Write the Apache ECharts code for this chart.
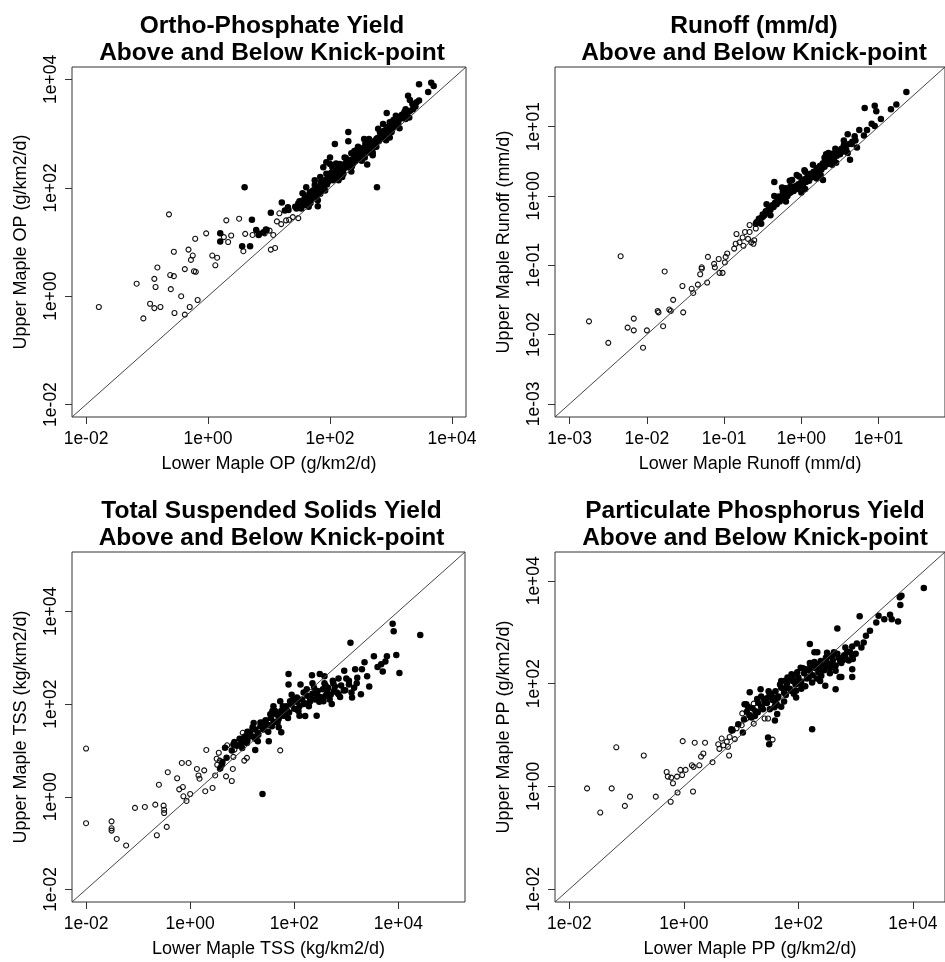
<!DOCTYPE html>
<html>
<head>
<meta charset="utf-8">
<script src="https://cdn.jsdelivr.net/npm/echarts@6/dist/echarts.min.js"></script>
<style>
html, body { margin: 0; padding: 0; background: #fff; }
#chart { width: 945px; height: 962px; }
</style>
</head>
<body>
<div id="chart"></div>
<script>
// all values are log10 of the yields
// [lower maple, upper maple]

// Ortho-Phosphate (g/km2/d)
var opOpen = [[-1.79,-0.20],[-1.17,0.23],[-1.06,-0.41],[-0.95,-0.14],[-0.88,-0.22],[-0.78,-0.20],[-0.88,0.32],[-0.86,0.17],[-0.83,0.53],[-0.64,1.51],[-0.62,0.39],[-0.56,0.37],[-0.61,0.13],[-0.55,-0.31],[-0.56,0.82],[-0.44,0.00],[-0.38,0.50],[-0.38,-0.34],[-0.32,0.86],[-0.28,0.67],[-0.25,0.75],[-0.30,-0.20],[-0.23,0.46],[-0.20,0.45],[-0.21,1.06],[-0.17,-0.07],[-0.03,1.16],[0.07,0.75],[0.15,0.71],[0.12,0.57],[0.30,1.40],[0.51,1.43],[0.26,1.09],[0.33,1.00],[0.38,1.12],[0.61,1.15],[0.58,0.83],[0.73,1.13],[0.93,1.16],[1.03,0.86],[1.10,0.89],[1.07,1.13],[1.13,1.38],[1.17,1.53],[1.28,1.40],[1.39,1.46],[1.48,1.44],[1.33,1.41],[1.20,1.33],[1.01,1.21]];
var opFilled = [[0.60,2.01],[0.20,1.16],[0.20,1.01],[0.72,1.41],[0.56,0.92],[0.69,0.92],[0.79,1.22],[0.83,1.13],[0.96,1.22],[1.03,1.54],[1.21,1.73],[1.26,1.58],[1.31,1.64],[2.77,2.01],
  [3.46,3.91],[3.66,3.94],[3.70,3.88],[3.61,3.77],[3.28,3.70],[3.31,3.62],[3.46,3.61],[3.37,3.52],[3.31,3.42],[3.24,3.27],[2.93,3.38],[3.08,3.33],[3.15,3.31],[2.98,3.21],[3.04,3.15],[2.87,3.18],[2.79,3.09],[2.93,3.12],[3.01,3.03],[2.85,3.00],[2.98,2.93],[2.76,2.90],[2.65,2.84],[2.71,2.75],[2.60,2.78],[2.63,2.65],[2.57,2.56],[2.61,2.43],[2.30,3.03],[2.30,2.86],[2.08,2.81],[2.46,2.76],[2.35,2.64],[2.00,2.56],[2.24,2.56],[2.44,2.56],[2.00,2.44],[2.16,2.44],[2.33,2.47],[2.11,2.35],[2.24,2.38],[1.94,2.26],[2.03,2.20],[2.11,2.20],[1.97,2.11],[2.05,2.14],[1.89,2.08],[1.75,2.14],[1.78,2.01],[1.67,1.92],[1.84,1.89],[1.61,2.01],[1.75,1.86],[1.80,1.77],[1.59,1.86],[1.56,1.77],[1.48,1.71],[1.80,1.66],[1.62,1.68],[1.53,1.62],[1.43,1.65],[1.32,1.59],[0.84,1.15],[0.91,1.18],[0.95,1.23],[1.94,2.47],[1.89,2.38],[2.05,2.29],[2.22,2.26],[1.84,2.20],
  [1.45,1.62],[1.50,1.75],[1.55,1.68],[1.60,1.80],[1.63,1.74],[1.66,1.85],[1.70,1.80],[1.72,1.95],[1.76,1.92],[1.78,1.84],[1.82,2.00],[1.85,1.96],[1.88,2.12],[1.90,2.02],[1.93,2.15],[1.95,2.06],[1.98,2.22],[2.00,2.15],[2.02,2.28],[2.06,2.24],[2.08,2.32],[2.10,2.18],[2.13,2.30],[2.15,2.36],[2.18,2.27],[2.20,2.40],[2.22,2.34],[2.25,2.45],[2.27,2.38],[2.30,2.50],[2.32,2.42],[2.35,2.52],[2.38,2.46],[2.40,2.60],[2.42,2.50],[2.45,2.62],[2.48,2.56],[2.50,2.70],[2.53,2.62],[2.55,2.74],[2.58,2.68],[2.62,2.72],[2.66,2.80],[2.68,2.72],[2.72,2.86],[2.74,2.80],[2.78,2.92],[2.80,2.86],[2.83,2.96],[2.86,2.92],[2.88,3.05],[2.90,2.98],[2.94,3.08],[2.96,3.02],[3.00,3.12],[3.02,3.08],[3.05,3.20],[3.08,3.14],[3.10,3.26],[3.12,3.20],[3.16,3.28],[3.18,3.35],[3.20,3.30],[3.22,3.40],[3.26,3.36],[2.56,2.90],[2.10,2.45],[1.75,2.05],[2.35,2.30],[2.70,2.65],[3.40,3.50],[3.35,3.55],
  [1.55,1.90],[1.65,1.65],[1.85,2.10],[1.92,1.95],[2.04,2.38],[2.14,2.14],[2.26,2.55],[2.36,2.40],[2.44,2.70],[2.52,2.50],[2.64,2.90],[2.70,2.60],[2.82,3.02],[2.92,2.88],[3.04,3.25],[3.14,3.10],[3.24,3.45],[3.30,3.30],[3.36,3.45],[3.42,3.58],[2.40,2.68],[2.20,2.20],[1.68,1.72],[2.58,2.82],[2.76,2.76]];

// Runoff (mm/d)
var runoffOpen = [[-2.75,-1.81],[-2.50,-2.12],[-2.34,-0.87],[-2.25,-1.90],[-2.17,-1.77],[-2.17,-1.94],[-2.05,-2.19],[-2.00,-1.94],[-1.85,-1.68],[-1.86,-1.66],[-1.79,-1.88],[-1.77,-1.09],[-1.71,-1.64],[-1.69,-1.66],[-1.66,-1.50],[-1.54,-1.30],[-1.53,-1.68],[-1.42,-1.34],[-1.40,-1.40],[-1.34,-1.28],[-1.31,-1.13],[-1.29,-1.05],[-1.29,-1.03],[-1.22,-1.25],[-1.21,-0.88],[-1.13,-0.98],[-1.12,-1.03],[-1.07,-0.91],[-1.06,-1.11],[-1.02,-1.11],[-0.99,-0.96],[-0.98,-0.88],[-0.96,-0.83],[-0.87,-0.76],[-0.85,-0.69],[-0.84,-0.55],[-0.80,-0.67],[-0.76,-0.60],[-0.73,-0.52],[-0.69,-0.62],[-0.67,-0.52],[-0.65,-0.67],[-0.75,-0.72],[-0.61,-0.64],[-0.59,-0.47],[-0.67,-0.42],[-0.62,-0.69]];
var runoffFilled = [[1.36,1.50],[0.82,1.27],[0.95,1.30],[0.97,1.22],[1.16,1.25],[1.23,1.32],[1.03,1.11],[0.91,1.04],[0.95,1.01],[0.60,0.89],[0.69,0.86],[0.81,0.87],[0.65,0.75],[0.63,0.52],[0.55,0.73],[0.44,0.68],[0.40,0.61],[0.35,0.56],[0.27,0.45],[0.23,0.40],[0.28,0.23],[0.18,0.35],[0.12,0.30],[0.04,0.37],[0.10,0.25],[-0.03,0.28],[-0.12,0.23],[-0.14,0.14],[-0.20,0.11],[-0.24,0.06],[-0.16,0.04],[-0.35,0.20],[-0.29,-0.01],[-0.33,-0.09],[-0.37,-0.13],[-0.42,-0.18],[-0.46,-0.23],[-0.50,-0.30],[-0.55,-0.35],[-0.59,-0.40],
  [-0.58,-0.38],[-0.55,-0.33],[-0.52,-0.32],[-0.50,-0.27],[-0.48,-0.28],[-0.46,-0.22],[-0.44,-0.24],[-0.42,-0.19],[-0.40,-0.20],[-0.38,-0.15],[-0.36,-0.16],[-0.34,-0.10],[-0.32,-0.12],[-0.30,-0.06],[-0.28,-0.08],[-0.26,-0.02],[-0.24,-0.04],[-0.22,0.02],[-0.20,0.05],[-0.18,0.00],[-0.16,0.08],[-0.14,0.05],[-0.12,0.10],[-0.10,0.07],[-0.08,0.14],[-0.06,0.10],[-0.04,0.17],[-0.02,0.12],[0.00,0.20],[0.02,0.16],[0.04,0.24],[0.06,0.20],[0.08,0.28],[0.10,0.22],[0.12,0.32],[0.14,0.27],[0.16,0.35],[0.18,0.30],[0.20,0.40],[0.22,0.36],[0.24,0.43],[0.26,0.38],[0.28,0.47],[0.30,0.42],[0.32,0.50],[0.34,0.46],[0.36,0.54],[0.38,0.50],[0.40,0.57],[0.42,0.53],[0.44,0.62],[0.46,0.58],[0.48,0.65],[0.50,0.60],[0.52,0.68],[0.54,0.64],[0.56,0.72],[0.58,0.67],[0.62,0.75],[0.66,0.78],[0.70,0.80],[-0.06,0.30],[0.05,0.35],[-0.25,0.12],[0.32,0.60],
  [-0.45,-0.12],[-0.35,0.00],[-0.15,0.22],[0.05,0.10],[0.15,0.45],[0.25,0.30],[0.35,0.62],[0.45,0.48],[0.55,0.80],[0.60,0.62],[-0.52,-0.40],[-0.40,-0.28],[-0.20,-0.08],[0.00,0.05],[0.20,0.25],[0.40,0.45],[0.75,0.95],[0.85,0.95],[0.72,0.70],[0.30,0.55]];

// Total Suspended Solids (kg/km2/d)
var tssOpen = [[-2.00,1.04],[-2.00,-0.57],[-1.51,-0.53],[-1.51,-0.68],[-1.51,-0.73],[-1.41,-0.91],[-1.23,-1.05],[-1.06,-0.24],[-0.87,-0.22],[-0.67,-0.17],[-0.64,-0.83],[-0.60,0.26],[-0.51,-0.19],[-0.50,-0.28],[-0.50,-0.35],[-0.45,-0.65],[-0.43,0.53],[-0.25,0.40],[-0.21,0.16],[-0.16,0.73],[-0.03,0.73],[-0.14,0.21],[-0.13,0.01],[-0.07,-0.09],[0.00,0.06],[0.13,0.60],[0.16,0.46],[0.18,0.39],[0.27,0.57],[0.31,1.01],[0.29,0.12],[0.43,0.19],[0.48,0.46],[0.52,0.69],[0.57,0.78],[0.55,0.95],[0.69,0.44],[0.80,0.34],[0.82,0.60],[0.83,0.86],[0.85,1.02],[0.71,1.11],[1.01,1.38],[1.04,0.78],[1.09,0.84],[1.28,1.23],[1.73,1.00],[0.57,0.60],[0.51,0.82]];
var tssFilled = [[3.89,3.73],[3.91,3.57],[4.42,3.49],[3.08,3.32],[3.96,3.06],[3.78,3.03],[3.67,2.86],[3.75,2.92],[4.02,2.67],[3.53,3.03],[3.35,2.90],[3.30,2.75],[3.17,2.75],[3.21,2.57],[2.96,2.72],[3.05,2.50],[3.44,2.38],[3.28,2.21],[3.11,2.14],[2.95,2.29],[2.85,2.21],[2.74,2.50],[2.58,2.60],[2.49,2.65],[2.34,2.62],[1.89,2.65],[2.76,2.28],[2.63,2.28],[2.72,2.00],[2.56,2.06],[2.43,2.21],[2.24,2.32],[2.30,2.14],[2.18,2.00],[2.43,1.75],[2.21,1.74],[2.05,1.88],[1.92,2.06],[1.73,2.06],[1.86,1.85],[1.73,1.74],[1.63,1.85],[1.54,1.78],[1.47,1.56],[1.57,1.52],[1.75,1.39],[1.51,1.20],[1.35,1.52],[1.22,1.59],[1.15,1.34],[1.25,1.01],[1.09,1.16],[0.96,1.13],[0.83,1.13],[0.67,1.06],[0.70,0.84],[0.61,0.69],[1.39,0.06],[1.89,2.42],[2.05,2.14],[2.12,2.42],[1.41,1.45],[1.31,1.34],[0.85,1.18],[0.62,0.75],[0.58,0.62],
  [0.90,1.10],[0.95,1.25],[1.00,1.18],[1.05,1.30],[1.10,1.22],[1.15,1.40],[1.20,1.30],[1.25,1.45],[1.30,1.38],[1.35,1.60],[1.40,1.48],[1.45,1.65],[1.50,1.55],[1.55,1.70],[1.60,1.62],[1.65,1.78],[1.70,1.68],[1.75,1.85],[1.80,1.75],[1.85,1.95],[1.90,1.82],[1.95,2.00],[2.00,1.90],[2.05,2.05],[2.10,1.95],[2.15,2.10],[2.20,2.02],[2.25,2.18],[2.30,2.05],[2.35,2.22],[2.40,2.10],[2.45,2.28],[2.50,2.15],[2.55,2.32],[2.60,2.18],[2.65,2.35],[2.70,2.20],[2.78,2.38],[2.82,2.25],[2.90,2.40],[2.98,2.30],[3.05,2.42],[3.15,2.35],[1.60,1.95],[1.95,2.20],[2.35,2.45],[1.30,1.20],[1.70,1.50],[2.10,1.75],[2.60,2.40],[1.10,1.40],[2.85,2.55],[1.50,1.40],
  [1.20,1.50],[1.40,1.60],[1.58,1.85],[1.68,1.60],[1.78,1.95],[1.88,1.70],[1.98,2.10],[2.08,1.85],[2.18,2.25],[2.28,1.95],[2.38,2.35],[2.48,2.05],[2.58,2.45],[2.68,2.10],[2.75,2.45],[2.88,2.15],[3.00,2.55],[3.10,2.25],[3.20,2.45],[3.40,2.60],[3.60,2.80],[3.70,2.70],[0.80,1.00],[1.00,1.05],[1.25,1.25]];

// Particulate Phosphorus (g/km2/d)
var ppOpen = [[-1.69,-0.04],[-1.46,-0.51],[-1.26,-0.04],[-1.18,0.76],[-1.03,-0.38],[-0.94,-0.20],[-0.70,0.60],[-0.49,-0.20],[-0.30,0.28],[-0.28,0.19],[-0.22,0.17],[-0.19,0.06],[-0.12,0.19],[-0.23,-0.30],[-0.11,-0.12],[-0.06,0.32],[-0.03,0.22],[0.03,0.32],[-0.02,0.88],[0.14,0.41],[0.16,-0.10],[0.17,0.38],[0.19,0.85],[0.27,0.41],[0.30,0.58],[0.34,0.64],[0.37,0.85],[0.50,0.47],[0.60,0.82],[0.62,0.73],[0.66,0.93],[0.69,0.80],[0.75,0.87],[0.77,0.77],[0.79,0.60],[0.80,0.96],[0.83,1.08],[0.89,0.92],[0.92,1.13],[1.01,1.19],[1.02,1.42],[1.09,1.32],[1.15,1.39],[1.22,1.61],[1.22,1.22],[1.26,1.45],[1.41,1.32],[1.47,1.32],[1.55,0.91],[1.64,1.58]];
var ppFilled = [[4.19,3.86],[3.80,3.71],[3.77,3.68],[3.78,3.53],[3.07,3.31],[3.40,3.32],[3.60,3.34],[3.63,3.25],[3.74,3.21],[3.50,3.25],[3.36,3.19],[3.25,3.03],[3.18,2.93],[3.14,2.80],[3.02,2.78],[2.94,2.72],[2.82,2.70],[2.85,2.61],[2.94,2.54],[2.95,2.48],[2.82,2.51],[2.68,3.07],[2.20,2.77],[2.28,2.61],[2.33,2.61],[2.62,2.61],[2.59,2.54],[2.50,2.51],[2.39,2.44],[2.45,2.31],[2.30,2.38],[2.21,2.35],[2.13,2.28],[2.04,2.31],[1.98,2.22],[1.90,2.15],[1.81,2.12],[1.70,2.05],[1.75,2.05],[2.73,2.44],[2.65,2.25],[2.75,2.13],[2.94,2.28],[2.94,2.13],[2.65,1.89],[2.47,1.96],[2.38,2.05],[2.24,2.02],[2.16,2.12],[2.04,1.99],[1.96,1.86],[1.96,1.73],[1.87,1.86],[1.79,1.92],[1.64,1.73],[1.61,1.63],[1.58,1.54],[1.53,1.80],[1.47,1.73],[1.41,1.63],[1.36,1.54],[1.34,1.89],[1.15,1.83],[1.09,1.60],[1.29,1.44],[1.24,1.37],[1.18,1.34],[1.63,1.41],[1.59,1.28],[1.47,0.95],[1.49,0.82],[2.24,1.11],[1.03,1.05],[0.83,1.11],[0.95,1.21],[0.85,1.09],[1.06,1.60],[2.72,2.13],
  [1.05,1.30],[1.10,1.45],[1.15,1.38],[1.20,1.52],[1.25,1.46],[1.30,1.62],[1.35,1.55],[1.40,1.70],[1.45,1.62],[1.50,1.78],[1.55,1.68],[1.60,1.85],[1.65,1.75],[1.70,1.92],[1.75,1.82],[1.80,2.00],[1.85,1.90],[1.90,2.05],[1.95,1.98],[2.00,2.12],[2.05,2.04],[2.10,2.20],[2.15,2.10],[2.20,2.25],[2.25,2.16],[2.30,2.30],[2.35,2.22],[2.40,2.36],[2.45,2.26],[2.50,2.40],[2.55,2.30],[2.60,2.45],[2.65,2.35],[2.70,2.50],[2.75,2.40],[2.80,2.55],[2.88,2.45],[1.50,1.50],[1.85,2.10],[2.20,2.40],[2.50,2.60],[1.60,1.60],[2.05,1.90],[2.40,2.15],[1.35,1.75],[1.75,1.65],
  [1.12,1.55],[1.28,1.70],[1.38,1.50],[1.48,1.85],[1.58,1.72],[1.68,1.98],[1.78,1.78],[1.88,2.18],[1.98,2.05],[2.08,2.30],[2.18,2.12],[2.28,2.42],[2.38,2.28],[2.48,2.50],[2.58,2.36],[2.68,2.58],[2.78,2.46],[2.90,2.62],[3.00,2.58],[3.10,2.70],[2.32,2.10],[2.12,1.95],[1.92,1.80],[1.70,1.55],[2.55,2.20]];

// axis limits (log10) and tick positions (log10 of 1e-03 ... 1e+04)
var opRange = [-2.23, 4.23];
var runoffRange = [-3.19, 1.86];
var tssRange = [-2.27, 5.28];
var ppRange = [-2.25, 4.56];
var opTicks = [-2, 0, 2, 4];
var runoffTicks = [-3, -2, -1, 0, 1];
var tssTicks = [-2, 0, 2, 4];
var ppTicks = [-2, 0, 2, 4];

var panels = [
  { title: 'Ortho-Phosphate Yield\nAbove and Below Knick-point', xName: 'Lower Maple OP (g/km2/d)', yName: 'Upper Maple OP (g/km2/d)',
    range: opRange, ticks: opTicks, open: opOpen, filled: opFilled, left: 72, top: 67, width: 394 },
  { title: 'Runoff (mm/d)\nAbove and Below Knick-point', xName: 'Lower Maple Runoff (mm/d)', yName: 'Upper Maple Runoff (mm/d)',
    range: runoffRange, ticks: runoffTicks, open: runoffOpen, filled: runoffFilled, left: 555, top: 67, width: 392 },
  { title: 'Total Suspended Solids Yield\nAbove and Below Knick-point', xName: 'Lower Maple TSS (kg/km2/d)', yName: 'Upper Maple TSS (kg/km2/d)',
    range: tssRange, ticks: tssTicks, open: tssOpen, filled: tssFilled, left: 72, top: 552, width: 393 },
  { title: 'Particulate Phosphorus Yield\nAbove and Below Knick-point', xName: 'Lower Maple PP (g/km2/d)', yName: 'Upper Maple PP (g/km2/d)',
    range: ppRange, ticks: ppTicks, open: ppOpen, filled: ppFilled, left: 555, top: 552, width: 394 }
];

function expLabel(v) {
  var a = Math.abs(v);
  return '1e' + (v < 0 ? '-' : '+') + (a < 10 ? '0' : '') + a;
}

var FONT = '"Liberation Sans", Arial, sans-serif';
var option = { animation: false, backgroundColor: '#fff', title: [], grid: [], xAxis: [], yAxis: [], series: [] };

panels.forEach(function(p, i) {
  option.title.push({
    text: p.title, left: p.left + p.width / 2 + 3, top: p.top - 54, textAlign: 'center', padding: 0,
    textStyle: { fontFamily: FONT, fontSize: 24.5, fontWeight: 'bold', lineHeight: 27, color: '#000' }
  });
  option.grid.push({ left: p.left, top: p.top, width: p.width, height: 350, show: true, borderColor: '#333', borderWidth: 1 });
  var axisBase = function(name, isY) {
    return {
      gridIndex: i, type: 'value', min: p.range[0], max: p.range[1],
      splitLine: { show: false }, axisLine: { show: false, onZero: false },
      axisTick: { show: true, inside: false, length: 7, customValues: p.ticks, lineStyle: { color: '#333' } },
      axisLabel: { customValues: p.ticks, formatter: expLabel, rotate: isY ? 90 : 0, margin: isY ? 12 : 13,
        fontFamily: FONT, fontSize: 17.5, color: '#000' },
      name: name, nameLocation: 'middle', nameGap: isY ? 42 : 38,
      nameTextStyle: { fontFamily: FONT, fontSize: 18, color: '#000' }
    };
  };
  option.xAxis.push(axisBase(p.xName, false));
  option.yAxis.push(axisBase(p.yName, true));
  option.series.push({
    type: 'line', xAxisIndex: i, yAxisIndex: i, symbol: 'none', silent: true,
    data: [[p.range[0], p.range[0]], [p.range[1], p.range[1]]],
    lineStyle: { color: '#444', width: 1 }
  });
  option.series.push({
    type: 'scatter', xAxisIndex: i, yAxisIndex: i, symbol: 'circle', symbolSize: 5,
    data: p.open, itemStyle: { color: 'rgba(0,0,0,0)', borderColor: '#111', borderWidth: 1.1, opacity: 1 }
  });
  option.series.push({
    type: 'scatter', xAxisIndex: i, yAxisIndex: i, symbol: 'circle', symbolSize: 6.5,
    data: p.filled, itemStyle: { color: '#000', opacity: 1 }
  });
});

var chart = echarts.init(document.getElementById('chart'));
chart.setOption(option);
</script>
</body>
</html>
